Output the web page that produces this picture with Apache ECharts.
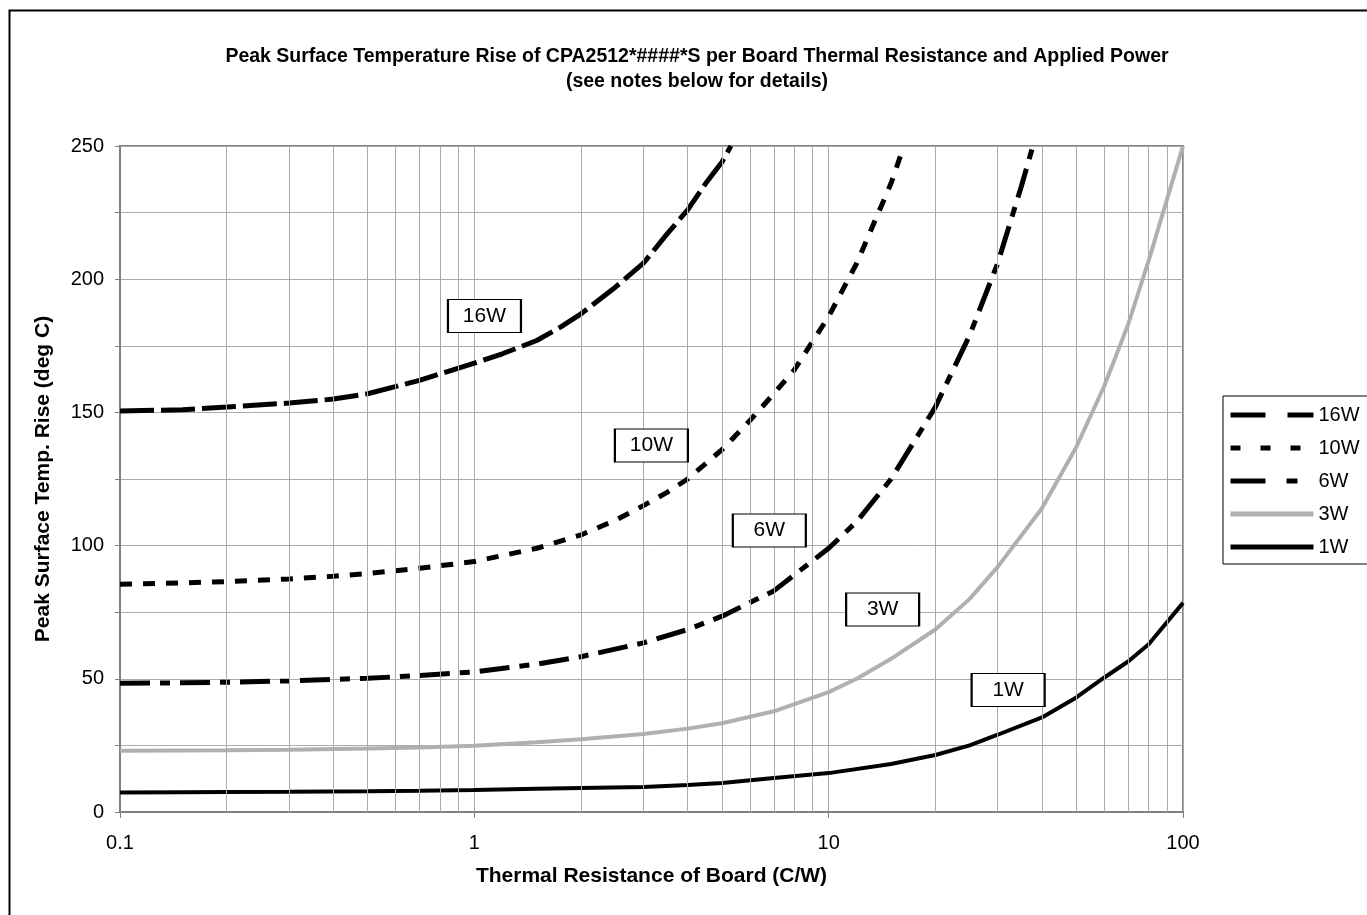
<!DOCTYPE html>
<html>
<head>
<meta charset="utf-8">
<script src="https://cdn.jsdelivr.net/npm/echarts@6/dist/echarts.min.js"></script>
<style>
html,body{margin:0;padding:0;background:#fff;}
#c{width:1367px;height:915px;}
</style>
</head>
<body>
<div id="c"></div>
<script>
// ---- data ----
const seriesNames = ['16W', '10W', '6W', '3W', '1W'];

const w16 = [[0.1,150.5],[0.15,151],[0.2,152],[0.3,153.5],[0.4,155],[0.5,157],[0.7,162],[1,168.5],[1.2,172],[1.5,177],[1.75,182],[2,187],[2.5,197],[3,206],[3.5,217],[4,226],[4.5,236],[5,244],[5.3,250]];
const w10 = [[0.1,85.5],[0.15,86],[0.2,86.5],[0.3,87.5],[0.4,88.5],[0.5,89.5],[0.7,91.5],[1,94],[1.5,99],[2,104],[2.5,109.5],[3,115],[3.5,120],[4,125],[5,136],[6,147],[7,157],[8,166],[10,186],[12,206],[15,236],[16.3,250]];
const w6 = [[0.1,48.3],[0.15,48.5],[0.2,48.7],[0.3,49.2],[0.5,50.2],[0.7,51.2],[1,52.6],[1.5,55.5],[2,58.3],[3,63.5],[4,68.5],[5,73.5],[7,83],[10,99],[12,109],[15,125],[20,152],[25,179],[30,206],[35,235],[37.7,250]];
const w3 = [[0.1,23],[0.15,23.1],[0.2,23.2],[0.3,23.4],[0.5,23.8],[0.7,24.2],[1,24.9],[1.5,26.2],[2,27.3],[3,29.3],[4,31.3],[5,33.3],[7,37.8],[10,45],[12,50],[15,57.5],[20,68.5],[25,80],[30,92],[40,114],[50,137],[60,160],[70,183],[80,207],[100,250]];
const w1 = [[0.1,7.3],[0.15,7.4],[0.2,7.5],[0.3,7.6],[0.5,7.8],[0.7,8],[1,8.3],[1.5,8.7],[2,9],[3,9.4],[4,10.1],[5,10.9],[7,12.8],[10,14.6],[15,18],[20,21.4],[25,25],[30,29],[40,35.5],[50,43],[60,50.5],[70,56.5],[80,63],[100,78.5]];

const xTicks = [0.1, 1, 10, 100];
const xMinorGrid = [0.2,0.3,0.4,0.5,0.6,0.7,0.8,0.9,2,3,4,5,6,7,8,9,20,30,40,50,60,70,80,90];
const yMin = 0, yMax = 250, yStep = 25, yLabelStep = 50;

// annotation boxes (data coordinates)
const boxText = ['16W', '10W', '6W', '3W', '1W'];
const boxX = [1.068, 3.16, 6.80, 14.2, 32.1];
const boxY = [186.2, 137.6, 105.7, 76, 45.8];

const titleText = 'Peak Surface Temperature Rise of CPA2512*####*S per Board Thermal Resistance and Applied Power\n(see notes below for details)';
const xName = 'Thermal Resistance of Board (C/W)';
const yName = 'Peak Surface Temp. Rise (deg C)';

// ---- chart ----
const FONT = '"Liberation Sans", Arial, sans-serif';
const chart = echarts.init(document.getElementById('c'), null, {renderer: 'canvas'});

const styles = [
  {color: '#000', width: 5, type: [34, 7]},
  {color: '#000', width: 5, type: [12, 11]},
  {color: '#000', width: 5, type: [30, 10, 10, 10]},
  {color: '#b0b0b0', width: 4, type: 'solid'},
  {color: '#000', width: 4, type: 'solid'}
];
const legendDash = [[35, 22], [10, 20], [35, 21, 11, 20], 'solid', 'solid'];
const datas = [w16, w10, w6, w3, w1];

const series = [{
  type: 'line', name: '_grid', data: [], silent: true, z: 1,
  markLine: {
    silent: true, symbol: 'none', animation: false,
    label: {show: false},
    lineStyle: {color: '#ababab', width: 1, type: 'solid'},
    data: xMinorGrid.map(v => ({xAxis: v}))
  }
}];
seriesNames.forEach((n, i) => {
  series.push({
    type: 'line', name: n, data: datas[i], symbol: 'none', showSymbol: false,
    smooth: false, z: 3, animation: false,
    lineStyle: styles[i], itemStyle: {color: styles[i].color},
    markPoint: {
      animation: false, silent: true,
      symbol: 'rect', symbolSize: [73, 33],
      itemStyle: {color: '#fff', borderColor: '#000', borderWidth: 1.5},
      label: {show: true, position: 'inside', formatter: boxText[i], color: '#000', fontSize: 21, fontFamily: FONT},
      data: [{coord: [boxX[i], boxY[i]]}]
    }
  });
});

chart.setOption({
  animation: false,
  backgroundColor: '#fff',
  title: {
    text: titleText, left: 692, top: 39, textAlign: 'center',
    textStyle: {fontFamily: FONT, fontSize: 19.5, fontWeight: 'bold', color: '#000', lineHeight: 25}
  },
  graphic: [{
    type: 'rect', left: 7, top: 8, silent: true,
    shape: {x: 0, y: 0, width: 1500, height: 1000},
    style: {fill: 'none', stroke: '#000', lineWidth: 2}
  }],
  legend: {
    left: 1223, top: 396, orient: 'vertical',
    itemWidth: 83, itemHeight: 14, itemGap: 13,
    padding: [9, 60, 7, 5],
    borderColor: '#000', borderWidth: 1,
    itemStyle: {opacity: 0},
    data: seriesNames.map((n, i) => ({
      name: n,
      itemStyle: {opacity: 0},
      lineStyle: {width: 5, type: legendDash[i], color: styles[i].color}
    })),
    textStyle: {fontFamily: FONT, fontSize: 20, color: '#000'}
  },
  grid: {left: 120, right: 184, top: 146, bottom: 103, show: true, borderColor: '#808080', borderWidth: 2, backgroundColor: 'transparent'},
  xAxis: {
    type: 'log', logBase: 10, min: xTicks[0], max: xTicks[xTicks.length - 1],
    name: xName, nameLocation: 'middle', nameGap: 54,
    nameTextStyle: {fontFamily: FONT, fontSize: 21, fontWeight: 'bold', color: '#000'},
    axisLine: {show: true, lineStyle: {color: '#808080', width: 2}},
    axisTick: {show: true, inside: false, length: 6, lineStyle: {color: '#808080', width: 1}},
    splitLine: {show: true, lineStyle: {color: '#ababab', width: 1}},
    axisLabel: {fontFamily: FONT, fontSize: 20, color: '#000', margin: 21, formatter: v => String(v)}
  },
  yAxis: {
    type: 'value', min: yMin, max: yMax, interval: yStep,
    name: yName, nameLocation: 'middle', nameGap: 66,
    nameTextStyle: {fontFamily: FONT, fontSize: 21, fontWeight: 'bold', color: '#000'},
    axisLine: {show: true, lineStyle: {color: '#808080', width: 2}},
    axisTick: {show: true, inside: false, length: 5, lineStyle: {color: '#808080', width: 1}},
    splitLine: {show: true, lineStyle: {color: '#ababab', width: 1}},
    axisLabel: {fontFamily: FONT, fontSize: 20, color: '#000', margin: 16,
      formatter: v => (v % yLabelStep === 0 ? String(v) : '')}
  },
  series: series
});
</script>
</body>
</html>
